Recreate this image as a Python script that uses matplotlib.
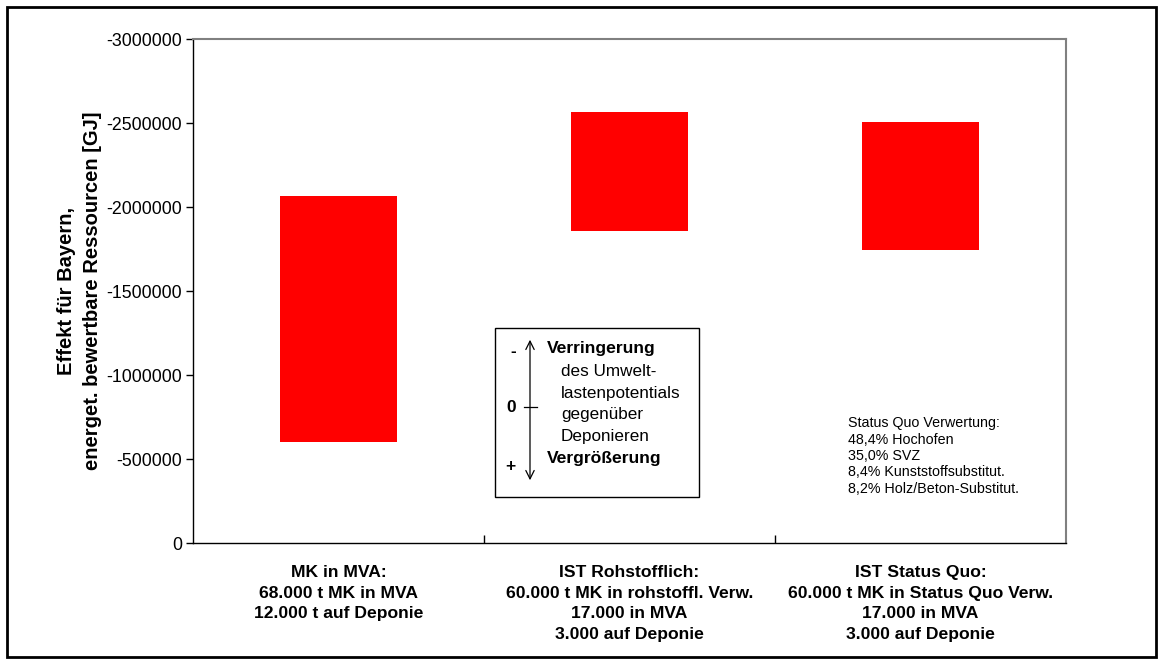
import matplotlib

matplotlib.use("Agg", force=True)
import matplotlib.pyplot as plt
from matplotlib.patches import Rectangle, FancyArrowPatch

plt.rcParams["font.family"] = ["Liberation Sans", "DejaVu Sans"]

# floating bars: upper (more negative) and lower end of each scenario, in GJ
categories = [
    "MK in MVA:\n68.000 t MK in MVA\n12.000 t auf Deponie",
    "IST Rohstofflich:\n60.000 t MK in rohstoffl. Verw.\n17.000 in MVA\n3.000 auf Deponie",
    "IST Status Quo:\n60.000 t MK in Status Quo Verw.\n17.000 in MVA\n3.000 auf Deponie",
]
bar_top = [-2065000, -2565000, -2505000]
bar_bottom = [-600000, -1860000, -1745000]
y_ticks = [0, -500000, -1000000, -1500000, -2000000, -2500000, -3000000]

status_lines = [
    "Status Quo Verwertung:",
    "48,4% Hochofen",
    "35,0% SVZ",
    "8,4% Kunststoffsubstitut.",
    "8,2% Holz/Beton-Substitut.",
]

W, H = 1163, 665
fig = plt.figure(figsize=(W / 100, H / 100), dpi=100)


def fx(px):
    return px / W


def fy(py):
    return 1 - py / H


# outer chart frame
fig.patches.append(Rectangle((fx(7), fy(657)), fx(1156) - fx(7), fy(7) - fy(657),
                             transform=fig.transFigure, fill=False,
                             edgecolor="black", linewidth=2))

ax = fig.add_axes([fx(193), fy(543), fx(1066) - fx(193), fy(39) - fy(543)])
x = list(range(len(categories)))
heights = [t - b for t, b in zip(bar_top, bar_bottom)]
ax.bar(x, heights, bottom=bar_bottom, width=0.4, color="#ff0000", edgecolor="none")

ax.set_xlim(-0.5, 2.5)
ax.set_ylim(0, -3000000)
ax.set_yticks(y_ticks)
ax.set_yticklabels([str(v) for v in y_ticks], fontsize=12.8)
ax.tick_params(axis="y", direction="out", length=5, width=1, pad=3)

ax.set_xticks(x)
ax.set_xticklabels(categories, fontsize=12.6, fontweight="bold", linespacing=1.46)
ax.tick_params(axis="x", which="major", length=0, pad=16)
ax.set_xticks([0.5, 1.5], minor=True)
ax.tick_params(axis="x", which="minor", direction="in", length=6, width=1)

for side in ("left", "bottom"):
    ax.spines[side].set_color("black")
    ax.spines[side].set_linewidth(1)
for side in ("top", "right"):
    ax.spines[side].set_color("#808080")
    ax.spines[side].set_linewidth(1.5)

ax.set_ylabel("Effekt für Bayern,\nenerget. bewertbare Ressourcen [GJ]",
              fontsize=14.5, fontweight="bold", labelpad=3, linespacing=1.45)

# explanation box in the middle of the chart
fig.patches.append(Rectangle((fx(495), fy(497)), fx(699) - fx(495), fy(328) - fy(497),
                             transform=fig.transFigure, fill=True, facecolor="white",
                             edgecolor="black", linewidth=1))
fig.patches.append(FancyArrowPatch((fx(530), fy(483)), (fx(530), fy(337)),
                                   transform=fig.transFigure, arrowstyle="<->,head_length=6,head_width=3",
                                   color="black", linewidth=0.9))
fig.lines.append(plt.Line2D([fx(524), fx(537)], [fy(407), fy(407)],
                            transform=fig.transFigure, color="black", linewidth=0.9))
fig.text(fx(513), fy(352), "-", fontsize=12.5, fontweight="bold", ha="center", va="center")
fig.text(fx(511), fy(407), "0", fontsize=12.5, fontweight="bold", ha="center", va="center")
fig.text(fx(510), fy(466), "+", fontsize=12.5, fontweight="bold", ha="center", va="center")
fig.text(fx(547), fy(349), "Verringerung", fontsize=12.6, fontweight="bold", va="center")
for i, line in enumerate(["des Umwelt-", "lastenpotentials", "gegenüber", "Deponieren"]):
    fig.text(fx(561), fy(371 + i * 22), line, fontsize=12.3, va="center")
fig.text(fx(547), fy(459), "Vergrößerung", fontsize=12.6, fontweight="bold", va="center")

for i, line in enumerate(status_lines):
    fig.text(fx(848), fy(423 + i * 16.5), line, fontsize=10.3, va="center")

fig.savefig("out.png", dpi=100)
plt.close(fig)
